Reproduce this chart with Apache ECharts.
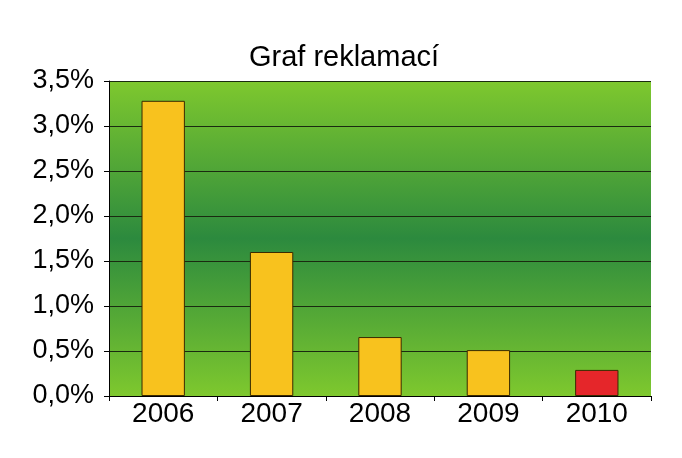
<!DOCTYPE html>
<html><head><meta charset="utf-8">
<script src="https://cdn.jsdelivr.net/npm/echarts@6/dist/echarts.min.js"></script>
<style>html,body{margin:0;padding:0;background:#fff}#c{width:682px;height:458px}</style>
</head><body><div id="c"></div>
<script>
var categories = ['2006','2007','2008','2009','2010'];
var values = [3.28, 1.60, 0.655, 0.51, 0.29];
var barColors = ['#f8c21e','#f8c21e','#f8c21e','#f8c21e','#e5262a'];
var chart = echarts.init(document.getElementById('c'));
var font = 'Liberation Sans, Arial, sans-serif';
chart.setOption({
  animation: false,
  title: {text: 'Graf reklamací', left: 339, textAlign: 'center', top: 38,
    textStyle: {fontFamily: font, fontSize: 29, fontWeight: 'normal', color: '#000'}},
  grid: {left: 109, right: 31, top: 81, bottom: 62, show: true, borderWidth: 0,
    backgroundColor: new echarts.graphic.LinearGradient(0,0,0,1,[
      {offset:0,color:'#7ec82e'},{offset:0.5,color:'#2c8a3e'},{offset:1,color:'#7ec82e'}])},
  xAxis: {type: 'category', data: categories,
    axisLine: {lineStyle: {color: '#000', width: 1}},
    axisTick: {show: true, inside: false, length: 5, lineStyle: {color: '#000'}},
    axisLabel: {fontFamily: font, fontSize: 28, color: '#000', margin: 4}},
  yAxis: {type: 'value', min: 0, max: 3.5, interval: 0.5,
    axisLine: {show: true, lineStyle: {color: '#000'}},
    axisTick: {show: true, length: 5, lineStyle: {color: '#000'}},
    splitLine: {lineStyle: {color: '#1a2a10', width: 1}},
    axisLabel: {fontFamily: font, fontSize: 27, color: '#000', margin: 15,
      formatter: function(v){ return v.toFixed(1).replace('.', ',') + '%'; }}},
  series: [{type: 'bar', barWidth: '40%',
    data: values.map(function(v,i){ return {value: v, itemStyle: {color: barColors[i]}}; }),
    itemStyle: {borderColor: '#3a2a00', borderWidth: 1}}]
});
</script></body></html>
